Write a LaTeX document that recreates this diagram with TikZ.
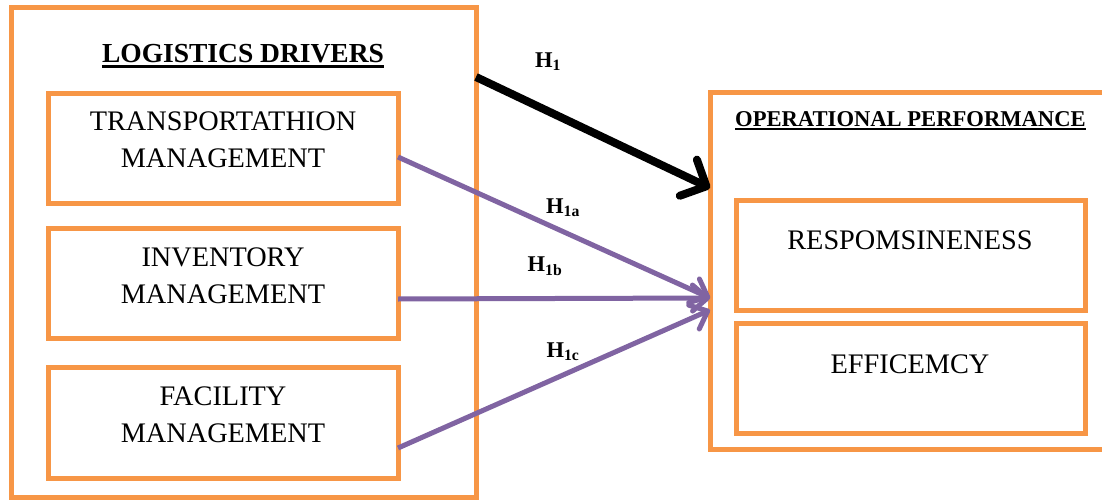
\documentclass[tikz,border=0pt]{standalone}
\usepackage{fontspec}
\setmainfont{Liberation Serif}
\usetikzlibrary{arrows.meta}
\definecolor{boxorange}{HTML}{F79646}
\definecolor{arrpurple}{HTML}{8064A2}
\begin{document}
\begin{tikzpicture}[x=1pt,y=-1pt,
  frame/.style={draw=boxorange, line width=5pt, rectangle, inner sep=0pt, outer sep=0pt, anchor=north west},
  boxtext/.style={align=center, inner sep=0pt, font=\fontsize{28.3}{37}\selectfont},
  titletext/.style={inner sep=0pt, anchor=base, font=\bfseries\fontsize{27.5}{30}\selectfont},
  hlabel/.style={inner sep=0pt, font=\bfseries\fontsize{22.5}{24}\selectfont},
  purplearrow/.style={draw=arrpurple, line width=5pt, -{Straight Barb[round,length=15pt,width=26pt]}},
  blackarrow/.style={draw=black, line width=8pt, -{Straight Barb[round,length=20pt,width=40pt]}},
  uline/.style={line width=2.5pt}]
\useasboundingbox (0,0) rectangle (1102,500);
\clip (0,0) rectangle (1102,500);

% left group
\node[frame, minimum width=465pt, minimum height=489pt] (ld) at (11,8) {};
\node[titletext] (ldt) at (243,63) {LOGISTICS DRIVERS};
\draw[uline] ([yshift=-3.5pt]ldt.base west) -- ([yshift=-3.5pt]ldt.base east);

\node[frame, minimum width=350pt, minimum height=109pt] (t) at (48,94) {};
\node[boxtext] (tt) at (223,139.5) {TRANSPORTATHION\\MANAGEMENT};
\node[frame, minimum width=350pt, minimum height=110pt] (i) at (48,228) {};
\node[boxtext] (it) at (223,275.5) {INVENTORY\\MANAGEMENT};
\node[frame, minimum width=350pt, minimum height=111pt] (f) at (48,367) {};
\node[boxtext] (ft) at (223,415) {FACILITY\\MANAGEMENT};

% right group
\node[frame, minimum width=400pt, minimum height=356pt] (op) at (710,93) {};
\node[inner sep=0pt, anchor=base west, font=\bfseries\fontsize{22.6}{24}\selectfont] (opt) at (735,126) {OPERATIONAL PERFORMANCE};
\draw[line width=2pt] ([yshift=-3pt]opt.base west) -- ([yshift=-3pt]opt.base east);

\node[frame, minimum width=349pt, minimum height=110pt] (r) at (736,200) {};
\node[boxtext] (rt) at (910,240) {RESPOMSINENESS};
\node[frame, minimum width=349pt, minimum height=110pt] (e) at (736,323) {};
\node[boxtext] (et) at (910,364) {EFFICEMCY};

% connectors
\coordinate (s0) at ([yshift=-69pt]ld.north east);
\coordinate (e0) at ([yshift=-95pt]op.north west);
\draw[blackarrow] (s0) -- (e0);

\coordinate (sa) at ([yshift=-8.5pt]t.east);
\coordinate (sb) at ([yshift=-16pt]i.east);
\coordinate (sc) at ([yshift=-25.5pt]f.east);
\coordinate (eab) at ([yshift=-27pt]op.west);
\coordinate (ec) at ([yshift=-39pt]op.west);
\draw[purplearrow] (sa) -- (eab);
\draw[purplearrow] (sb) -- (eab);
\draw[purplearrow] (sc) -- (ec);

% labels
\node[hlabel] (h1) at (548,62) {H\textsubscript{1}};
\node[hlabel] (h1a) at (563,208) {H\textsubscript{1a}};
\node[hlabel] (h1b) at (545,266) {H\textsubscript{1b}};
\node[hlabel] (h1c) at (563,352) {H\textsubscript{1c}};
\end{tikzpicture}
\end{document}
